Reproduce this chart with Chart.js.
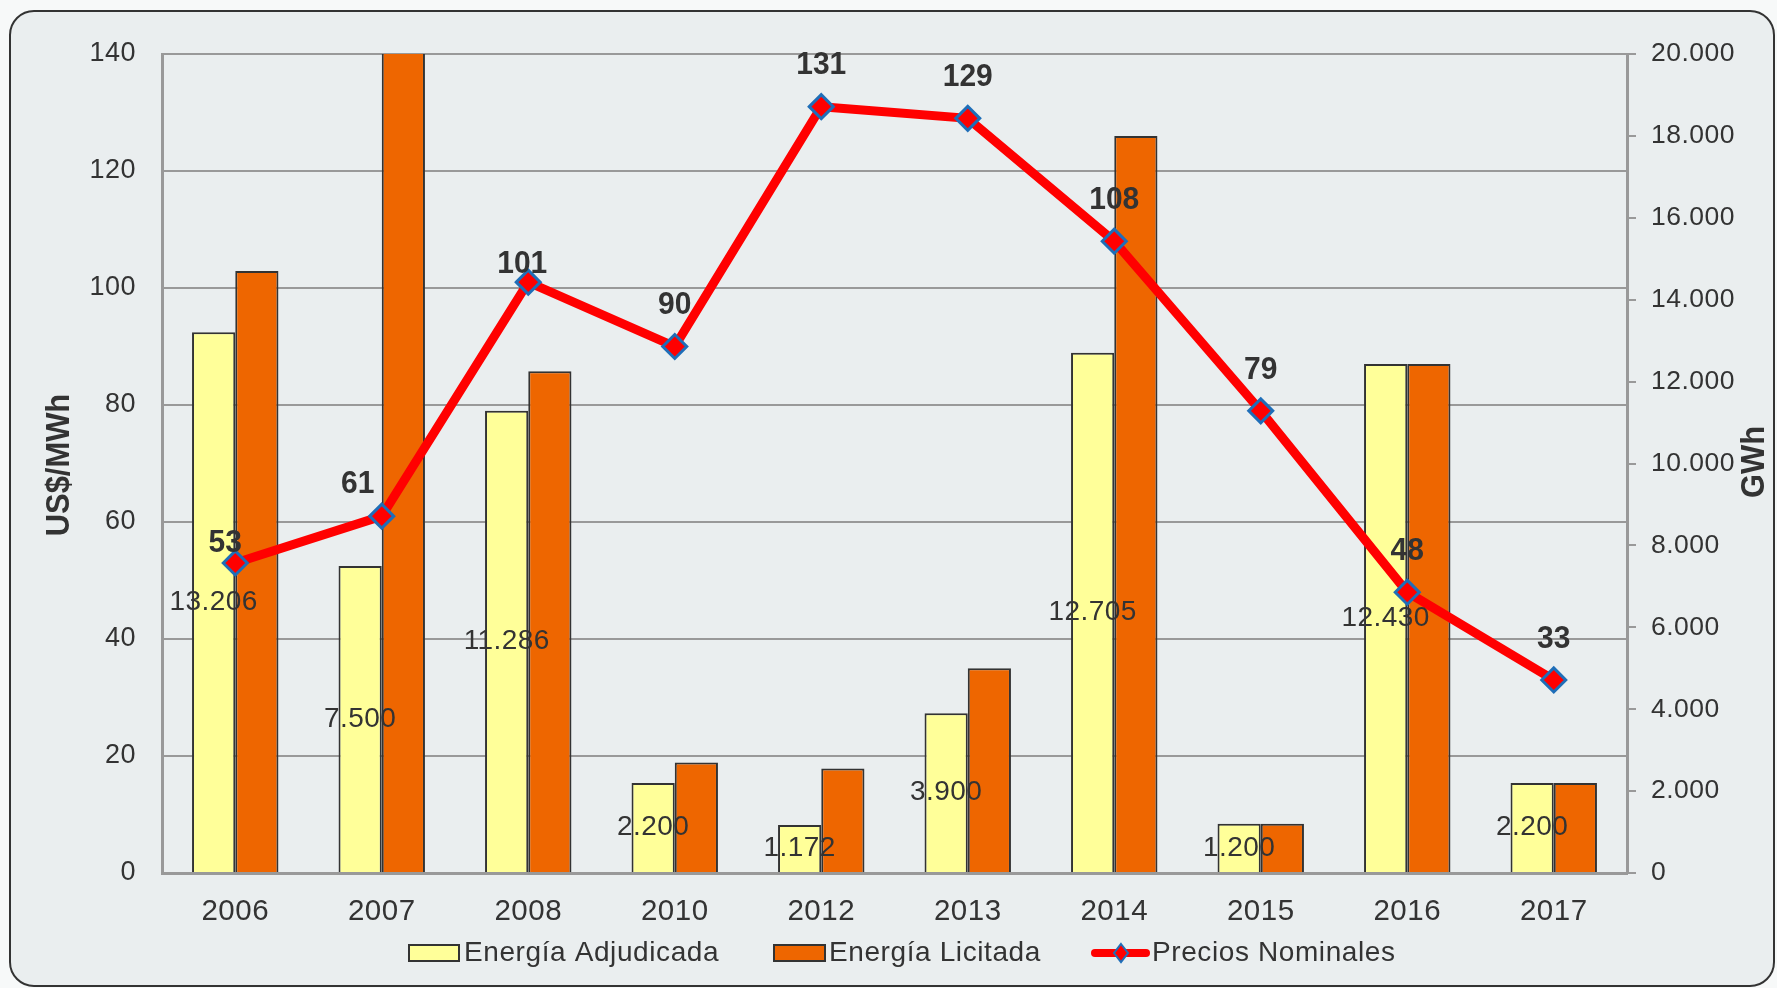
<!DOCTYPE html>
<html>
<head>
<meta charset="utf-8">
<script src="https://cdn.jsdelivr.net/npm/chart.js@4/dist/chart.umd.min.js"></script>
<style>
html,body{margin:0;padding:0;background:#F7F9F9;overflow:hidden;}
canvas{display:block;}
</style>
</head>
<body>
<canvas id="c" width="1777" height="988"></canvas>
<script>
// ---- data ----
const categories = ['2006','2007','2008','2010','2012','2013','2014','2015','2016','2017'];
const energiaAdjudicada = [13206, 7500, 11286, 2200, 1172, 3900, 12705, 1200, 12430, 2200]; // GWh
const energiaLicitada   = [14700, 21000, 12250, 2700, 2550, 5000, 18000, 1200, 12430, 2200]; // GWh
const preciosNominales  = [53, 61, 101, 90, 131, 129, 108, 79, 48, 33]; // US$/MWh
const priceTicks = {min: 0, max: 140, step: 20};
const gwhTicks   = {min: 0, max: 20000, step: 2000};
const seriesNames = ['Energía Adjudicada', 'Energía Licitada', 'Precios Nominales'];
const axisTitles = {left: 'US$/MWh', right: 'GWh'};

// ---- styling ----
const FONT = '"Liberation Sans", Arial, sans-serif';
const TXT = '#333333';
const YELLOW = '#FFFF99', ORANGE = '#EE6600', RED = '#FF0000', BLUE = '#1F6EB8', GRID = '#999999';

function fmt(n){ return String(n).replace(/\B(?=(\d{3})+(?!\d))/g, '.'); }

// label nudges for price labels (pixels), index-based
const priceLabelNudge = {0: [-10, 21], 1: [-24, 9], 2: [-6, 23]};

const framePlugin = {
  id: 'frame',
  beforeDraw(chart){
    const ctx = chart.ctx;
    ctx.save();
    ctx.fillStyle = '#F7F9F9';
    ctx.fillRect(0, 0, chart.width, chart.height);
    ctx.beginPath();
    ctx.roundRect(10, 11, 1764, 975, 24);
    ctx.fillStyle = '#EAEEEF';
    ctx.fill();
    ctx.lineWidth = 2;
    ctx.strokeStyle = '#333333';
    ctx.stroke();
    ctx.restore();
    ctx.letterSpacing = '0.5px';
  }
};

const labelsPlugin = {
  id: 'valueLabels',
  afterDatasetsDraw(chart){
    const ctx = chart.ctx;
    // adjudicada labels centered in bar
    const m0 = chart.getDatasetMeta(0);
    ctx.save();
    ctx.letterSpacing = '0.4px';
    ctx.font = '28px ' + FONT;
    ctx.fillStyle = TXT;
    ctx.textAlign = 'center';
    ctx.textBaseline = 'middle';
    m0.data.forEach((el, i) => {
      const y = (el.y + el.base) / 2;
      ctx.fillText(fmt(energiaAdjudicada[i]), el.x, y);
    });
    ctx.restore();
    // price labels
    const m2 = chart.getDatasetMeta(2);
    ctx.save();
    ctx.letterSpacing = '0px';
    ctx.font = 'bold 30px ' + FONT;
    ctx.fillStyle = TXT;
    ctx.textAlign = 'center';
    ctx.textBaseline = 'middle';
    m2.data.forEach((el, i) => {
      const nd = priceLabelNudge[i] || [0, 0];
      const x = el.x + nd[0];
      const y = el.y - 41 + nd[1];
      ctx.save();
      ctx.translate(x, y);
      ctx.scale(1, 1.05);
      ctx.fillText(String(preciosNominales[i]), 0, 0);
      ctx.restore();
    });
    ctx.restore();
  },
  afterDraw(chart){
    const ctx = chart.ctx;
    // axis titles
    ctx.save();
    ctx.letterSpacing = '0px';
    ctx.font = 'bold 30px ' + FONT;
    ctx.fillStyle = TXT;
    ctx.textAlign = 'center';
    ctx.textBaseline = 'middle';
    [[60, 465, axisTitles.left], [1755, 462, axisTitles.right]].forEach(([x, y, t]) => {
      ctx.save();
      ctx.translate(x, y);
      ctx.rotate(-Math.PI / 2);
      ctx.scale(1.03, 1.1);
      ctx.fillText(t, 0, 0);
      ctx.restore();
    });
    ctx.restore();

    // legend
    ctx.save();
    ctx.letterSpacing = '0.6px';
    ctx.font = '28px ' + FONT;
    ctx.fillStyle = TXT;
    ctx.textBaseline = 'middle';
    ctx.textAlign = 'left';
    const ly = 953;
    // item 1
    ctx.fillStyle = YELLOW; ctx.fillRect(409, 945, 50, 16);
    ctx.strokeStyle = '#333'; ctx.lineWidth = 2; ctx.strokeRect(409, 945, 50, 16);
    ctx.fillStyle = TXT; ctx.fillText(seriesNames[0], 464, ly);
    // item 2
    ctx.fillStyle = ORANGE; ctx.fillRect(774, 945, 51, 16);
    ctx.strokeRect(774, 945, 51, 16);
    ctx.fillStyle = TXT; ctx.fillText(seriesNames[1], 829, ly);
    // item 3
    ctx.strokeStyle = RED; ctx.lineWidth = 8; ctx.lineCap = 'round';
    ctx.beginPath(); ctx.moveTo(1095, ly); ctx.lineTo(1146, ly); ctx.stroke();
    ctx.lineCap = 'butt';
    ctx.beginPath();
    ctx.moveTo(1121, ly - 9); ctx.lineTo(1128, ly); ctx.lineTo(1121, ly + 9); ctx.lineTo(1114, ly); ctx.closePath();
    ctx.fillStyle = RED; ctx.fill();
    ctx.strokeStyle = BLUE; ctx.lineWidth = 2; ctx.stroke();
    ctx.fillStyle = TXT; ctx.fillText(seriesNames[2], 1152, ly);
    ctx.restore();
  }
};

new Chart(document.getElementById('c'), {
  data: {
    labels: categories,
    datasets: [
      { type: 'bar', label: seriesNames[0], data: energiaAdjudicada, yAxisID: 'y1',
        backgroundColor: YELLOW, borderColor: '#333333', borderWidth: 2, order: 2,
        categoryPercentage: 0.59, barPercentage: 1.0 },
      { type: 'bar', label: seriesNames[1], data: energiaLicitada, yAxisID: 'y1',
        backgroundColor: ORANGE, borderColor: '#333333', borderWidth: 2, order: 2,
        categoryPercentage: 0.59, barPercentage: 1.0 },
      { type: 'line', label: seriesNames[2], data: preciosNominales, yAxisID: 'y',
        borderColor: RED, borderWidth: 9, tension: 0, order: 0,
        pointStyle: 'rectRot', pointRadius: 12, pointBackgroundColor: RED,
        pointBorderColor: BLUE, pointBorderWidth: 3 }
    ]
  },
  options: {
    responsive: false,
    devicePixelRatio: 1,
    animation: false,
    layout: { padding: { top: 54, left: 0, right: 0, bottom: 0 } },
    plugins: { legend: { display: false }, tooltip: { enabled: false }, title: { display: false } },
    scales: {
      x: {
        offset: true,
        grid: { display: false, drawTicks: false },
        border: { display: true, color: GRID, width: 3 },
        ticks: { color: TXT, font: { family: FONT, size: 29.5 }, padding: 21, maxRotation: 0, autoSkip: false },
        afterFit(s){ s.height = 115; }
      },
      y: {
        position: 'left',
        min: priceTicks.min, max: priceTicks.max,
        grid: { color: GRID, lineWidth: 2, drawTicks: false },
        border: { display: true, color: GRID, width: 3 },
        ticks: { stepSize: priceTicks.step, color: TXT, font: { family: FONT, size: 27 }, padding: 26 },
        afterFit(s){ s.width = 162; }
      },
      y1: {
        position: 'right',
        min: gwhTicks.min, max: gwhTicks.max,
        grid: { drawOnChartArea: false, color: GRID, lineWidth: 2, tickLength: 9, drawTicks: true },
        border: { display: true, color: GRID, width: 3 },
        ticks: { stepSize: gwhTicks.step, color: TXT, font: { family: FONT, size: 26.5 }, padding: 15,
                 callback: v => fmt(v) },
        afterFit(s){ s.width = 150; }
      }
    }
  },
  plugins: [framePlugin, labelsPlugin]
});
</script>
</body>
</html>
